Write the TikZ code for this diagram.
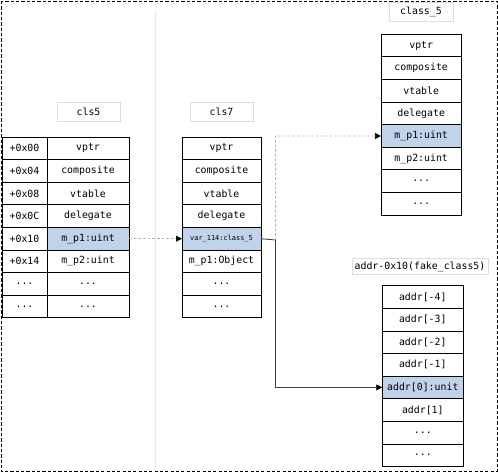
\documentclass[tikz,border=0pt]{standalone}
\usepackage{fontspec}
\newfontfamily\mono{DejaVu Sans Mono}
\usetikzlibrary{arrows.meta}
\definecolor{hl}{HTML}{C0D3EA}
\definecolor{lbl}{HTML}{DDDDDD}
\newcommand\mydots{...}
\begin{document}
\begin{tikzpicture}[x=0.75pt,y=-0.75pt,
  cell/.style={draw=black, line width=0.6pt, inner sep=0pt, outer sep=0pt,
    minimum height=16.95pt, font=\mono\fontsize{7.4}{9}\selectfont},
  offcell/.style={cell, minimum width=33.75pt},
  valcell/.style={cell, minimum width=61.5pt},
  c7cell/.style={cell, minimum width=59.25pt},
  k5cell/.style={cell, minimum width=60.4pt},
  adcell/.style={cell, minimum width=60.75pt},
  hlcell/.style={fill=hl},
  lblbox/.style={draw=lbl, line width=0.6pt, fill=white, inner sep=0pt,
    minimum height=14.25pt, font=\mono\fontsize{7.4}{9}\selectfont},
  dashconn/.style={draw=gray!60, dashed, dash pattern=on 2pt off 1.5pt, line width=0.5pt,
    -{Triangle[length=4.5pt,width=4.5pt,color=black]}},
  solidconn/.style={draw=black!75, line width=0.6pt,
    -{Triangle[length=4.5pt,width=4.5pt,color=black]}}
]
\useasboundingbox (0,0) rectangle (498,473);
% outer frame
\draw[line width=0.7pt, dash pattern=on 2.4pt off 1.6pt] (1,1) rectangle (497,471.5);
% separator
\draw[gray!18, line width=0.7pt] (155,10) -- (155,470);

% labels
\node[lblbox, minimum width=47.25pt] (lcls5) at (88.5,111.5) {cls5};
\node[lblbox, minimum width=47.25pt] (lcls7) at (221.5,111.5) {cls7};
\node[lblbox, minimum width=48pt] (lk5) at (421,12.2) {class\_5};
\node[lblbox, minimum width=102pt, minimum height=12pt] (lad) at (420,266.7) {addr-0x10(fake\_class5)};

% cls5 table
\foreach \o/\v [count=\i] in {+0x00/vptr,+0x04/composite,+0x08/vtable,+0x0C/delegate,+0x10/m\_p1:uint,+0x14/m\_p2:uint,\mydots/\mydots,\mydots/\mydots}{
  \node[offcell] (c5o\i) at (24.5,{137+22.6*(\i-0.5)}) {\o};
  \node[valcell] (c5v\i) at (88,{137+22.6*(\i-0.5)}) {\v};
}
\node[valcell, hlcell] at (c5v5) {m\_p1:uint};

% cls7 table
\foreach \v [count=\i] in {vptr,composite,vtable,delegate,{},m\_p1:Object,\mydots,\mydots}{
  \node[c7cell] (c7r\i) at (221.5,{137+22.6*(\i-0.5)}) {\v};
}
\node[c7cell, hlcell, font=\mono\fontsize{5.2}{6}\selectfont] at (c7r5) {var\_114:class\_5};

% class_5 table
\foreach \v [count=\i] in {vptr,composite,vtable,delegate,{},m\_p2:uint,\mydots,\mydots}{
  \node[k5cell] (k5r\i) at (421.2,{34.3+22.6*(\i-0.5)}) {\v};
}
\node[k5cell, hlcell] at (k5r5) {m\_p1:uint};

% addr table
\foreach \v [count=\i] in {addr[-4],addr[-3],addr[-2],addr[-1],{},addr[1],\mydots,\mydots}{
  \node[adcell] (ad\i) at (422.8,{285.7+22.6*(\i-0.5)}) {\v};
}
\node[adcell, hlcell] at (ad5) {addr[0]:unit};

% connectors
\coordinate (bend) at (275.5,240);
\draw[dashconn] (c5v5.east) -- (c7r5.west);
\draw[dashconn] (c7r5.east) -- (bend) |- (k5r5.west);
\draw[solidconn] (c7r5.east) -- (bend) |- (ad5.west);
\end{tikzpicture}
\end{document}
